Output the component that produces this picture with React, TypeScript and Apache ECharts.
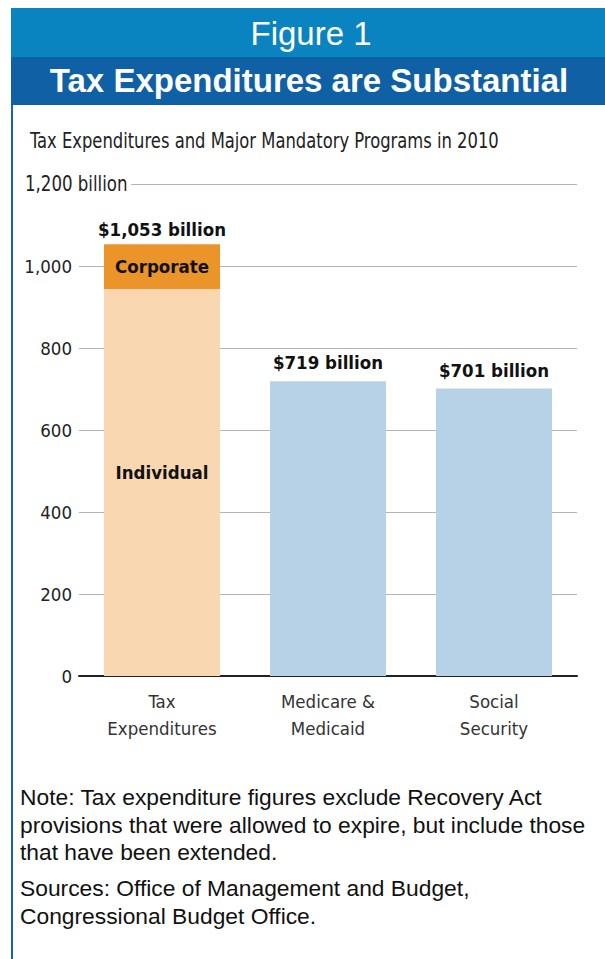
import React, { useEffect, useRef } from 'react';
import * as echarts from 'echarts';

// ---- Data ----
const categories = ['Tax\nExpenditures', 'Medicare &\nMedicaid', 'Social\nSecurity'];
// Lower stacked segment: Individual tax expenditures, then whole programs
const baseValues = [944, 719, 701];
// Upper stacked segment: Corporate tax expenditures (only first category)
const corporateValues: (number | string)[] = [109, '-', '-'];
const totals = [1053, 719, 701];
const baseColors = ['#f9d8b1', '#b7d2e6', '#b7d2e6'];
const corporateColor = '#eb9429';
const yMin = 0;
const yMax = 1200;
const yStep = 200;

const title1 = 'Figure 1';
const title2 = 'Tax Expenditures are Substantial';
const subtitle = 'Tax Expenditures and Major Mandatory Programs in 2010';
const noteLines = [
  'Note: Tax expenditure figures exclude Recovery Act',
  'provisions that were allowed to expire, but include those',
  'that have been extended.',
];
const sourceLines = ['Sources: Office of Management and Budget,', 'Congressional Budget Office.'];

const NARROW = '"Liberation Sans Narrow", "Arial Narrow", "DejaVu Sans Condensed", sans-serif';
const SANS = '"Liberation Sans", Arial, sans-serif';

const fmt = (v: number) => v.toLocaleString('en-US');
const billion = (v: number) => '$' + fmt(v) + ' billion';

export default function App() {
  const ref = useRef<HTMLDivElement>(null);
  useEffect(() => {
    if (!ref.current) return;
    const chart = echarts.init(ref.current, undefined, { renderer: 'svg' });
    const barLabelStyle = { fontFamily: NARROW, fontWeight: 'bold' as const, fontSize: 18.5, color: '#111' };
    chart.setOption({
      animation: false,
      backgroundColor: '#fff',
      grid: { left: 79, right: 28, top: 184, bottom: 283, containLabel: false },
      xAxis: {
        type: 'category',
        data: categories,
        axisTick: { show: false },
        axisLine: { show: true, lineStyle: { color: '#222', width: 2 } },
        axisLabel: { fontFamily: NARROW, fontSize: 18.5, color: '#333', lineHeight: 27, margin: 12 },
      },
      yAxis: {
        type: 'value',
        min: yMin,
        max: yMax,
        interval: yStep,
        axisLine: { show: false },
        axisTick: { show: false },
        axisLabel: {
          fontFamily: NARROW,
          fontSize: 18.5,
          color: '#222',
          margin: 7,
          formatter: (v: number) => (v === yMax ? '' : fmt(v)),
        },
        splitLine: { lineStyle: { color: '#b4b4b4', width: 1 } },
      },
      series: [
        {
          type: 'bar',
          stack: 'total',
          barWidth: 116,
          data: baseValues.map((v, i) => ({
            value: v,
            itemStyle: { color: baseColors[i] },
            label:
              i === 0
                ? { show: true, position: 'inside', offset: [0, -10], formatter: 'Individual', ...barLabelStyle }
                : { show: true, position: 'top', distance: 9, formatter: billion(totals[i]), ...barLabelStyle },
          })),
        },
        {
          type: 'bar',
          stack: 'total',
          barWidth: 116,
          data: corporateValues.map((v) =>
            v === '-'
              ? '-'
              : {
                  value: v,
                  itemStyle: { color: corporateColor },
                  label: { show: true, position: 'inside', formatter: 'Corporate', ...barLabelStyle },
                }
          ),
        },
        {
          type: 'bar',
          stack: 'total',
          barWidth: 116,
          data: corporateValues.map((v, i) =>
            v === '-'
              ? '-'
              : {
                  value: 0,
                  itemStyle: { color: 'transparent' },
                  label: { show: true, position: 'top', distance: 5, formatter: billion(totals[i]), ...barLabelStyle },
                }
          ),
        },
      ],
    });

    const yTop = chart.convertToPixel({ yAxisIndex: 0 }, yMax) as number;
    const lineH = 27.5;
    chart.setOption({
      graphic: [
        { type: 'rect', shape: { x: 11, y: 8, width: 594, height: 49 }, style: { fill: '#0a83c1' } },
        { type: 'rect', shape: { x: 11, y: 57, width: 594, height: 48 }, style: { fill: '#1060a6' } },
        { type: 'rect', shape: { x: 11, y: 105, width: 2, height: 854 }, style: { fill: '#1a63aa' } },
        {
          type: 'text',
          x: 311,
          y: 33,
          style: { text: title1, font: '33px ' + SANS, fill: '#fff', align: 'center', verticalAlign: 'middle' },
        },
        {
          type: 'text',
          x: 309,
          y: 80,
          style: { text: title2, font: 'bold 33px ' + SANS, fill: '#fff', align: 'center', verticalAlign: 'middle' },
        },
        {
          type: 'text',
          x: 30,
          y: 141,
          scaleX: 0.867,
          style: { text: subtitle, font: '21px ' + NARROW, fill: '#222', align: 'left', verticalAlign: 'middle' },
        },
        {
          type: 'text',
          x: 25,
          y: yTop,
          z: 10,
          scaleX: 0.88,
          style: {
            text: '1,200 billion',
            font: '21px ' + NARROW,
            fill: '#222',
            align: 'left',
            verticalAlign: 'middle',
            backgroundColor: '#fff',
            padding: [2, 4, 2, 0],
          },
        },
        ...noteLines.map((t, i) => ({
          type: 'text',
          x: 20,
          y: 797 + i * lineH,
          style: { text: t, font: '22.8px ' + SANS, fill: '#111', align: 'left', verticalAlign: 'middle' },
        })),
        ...sourceLines.map((t, i) => ({
          type: 'text',
          x: 20,
          y: 888 + i * lineH,
          style: { text: t, font: '22.8px ' + SANS, fill: '#111', align: 'left', verticalAlign: 'middle' },
        })),
      ],
    });
    return () => chart.dispose();
  }, []);
  return (
    <div
      ref={ref}
      style={{ position: 'absolute', left: 0, top: 0, width: 605, height: 959, background: '#fff' }}
    />
  );
}
